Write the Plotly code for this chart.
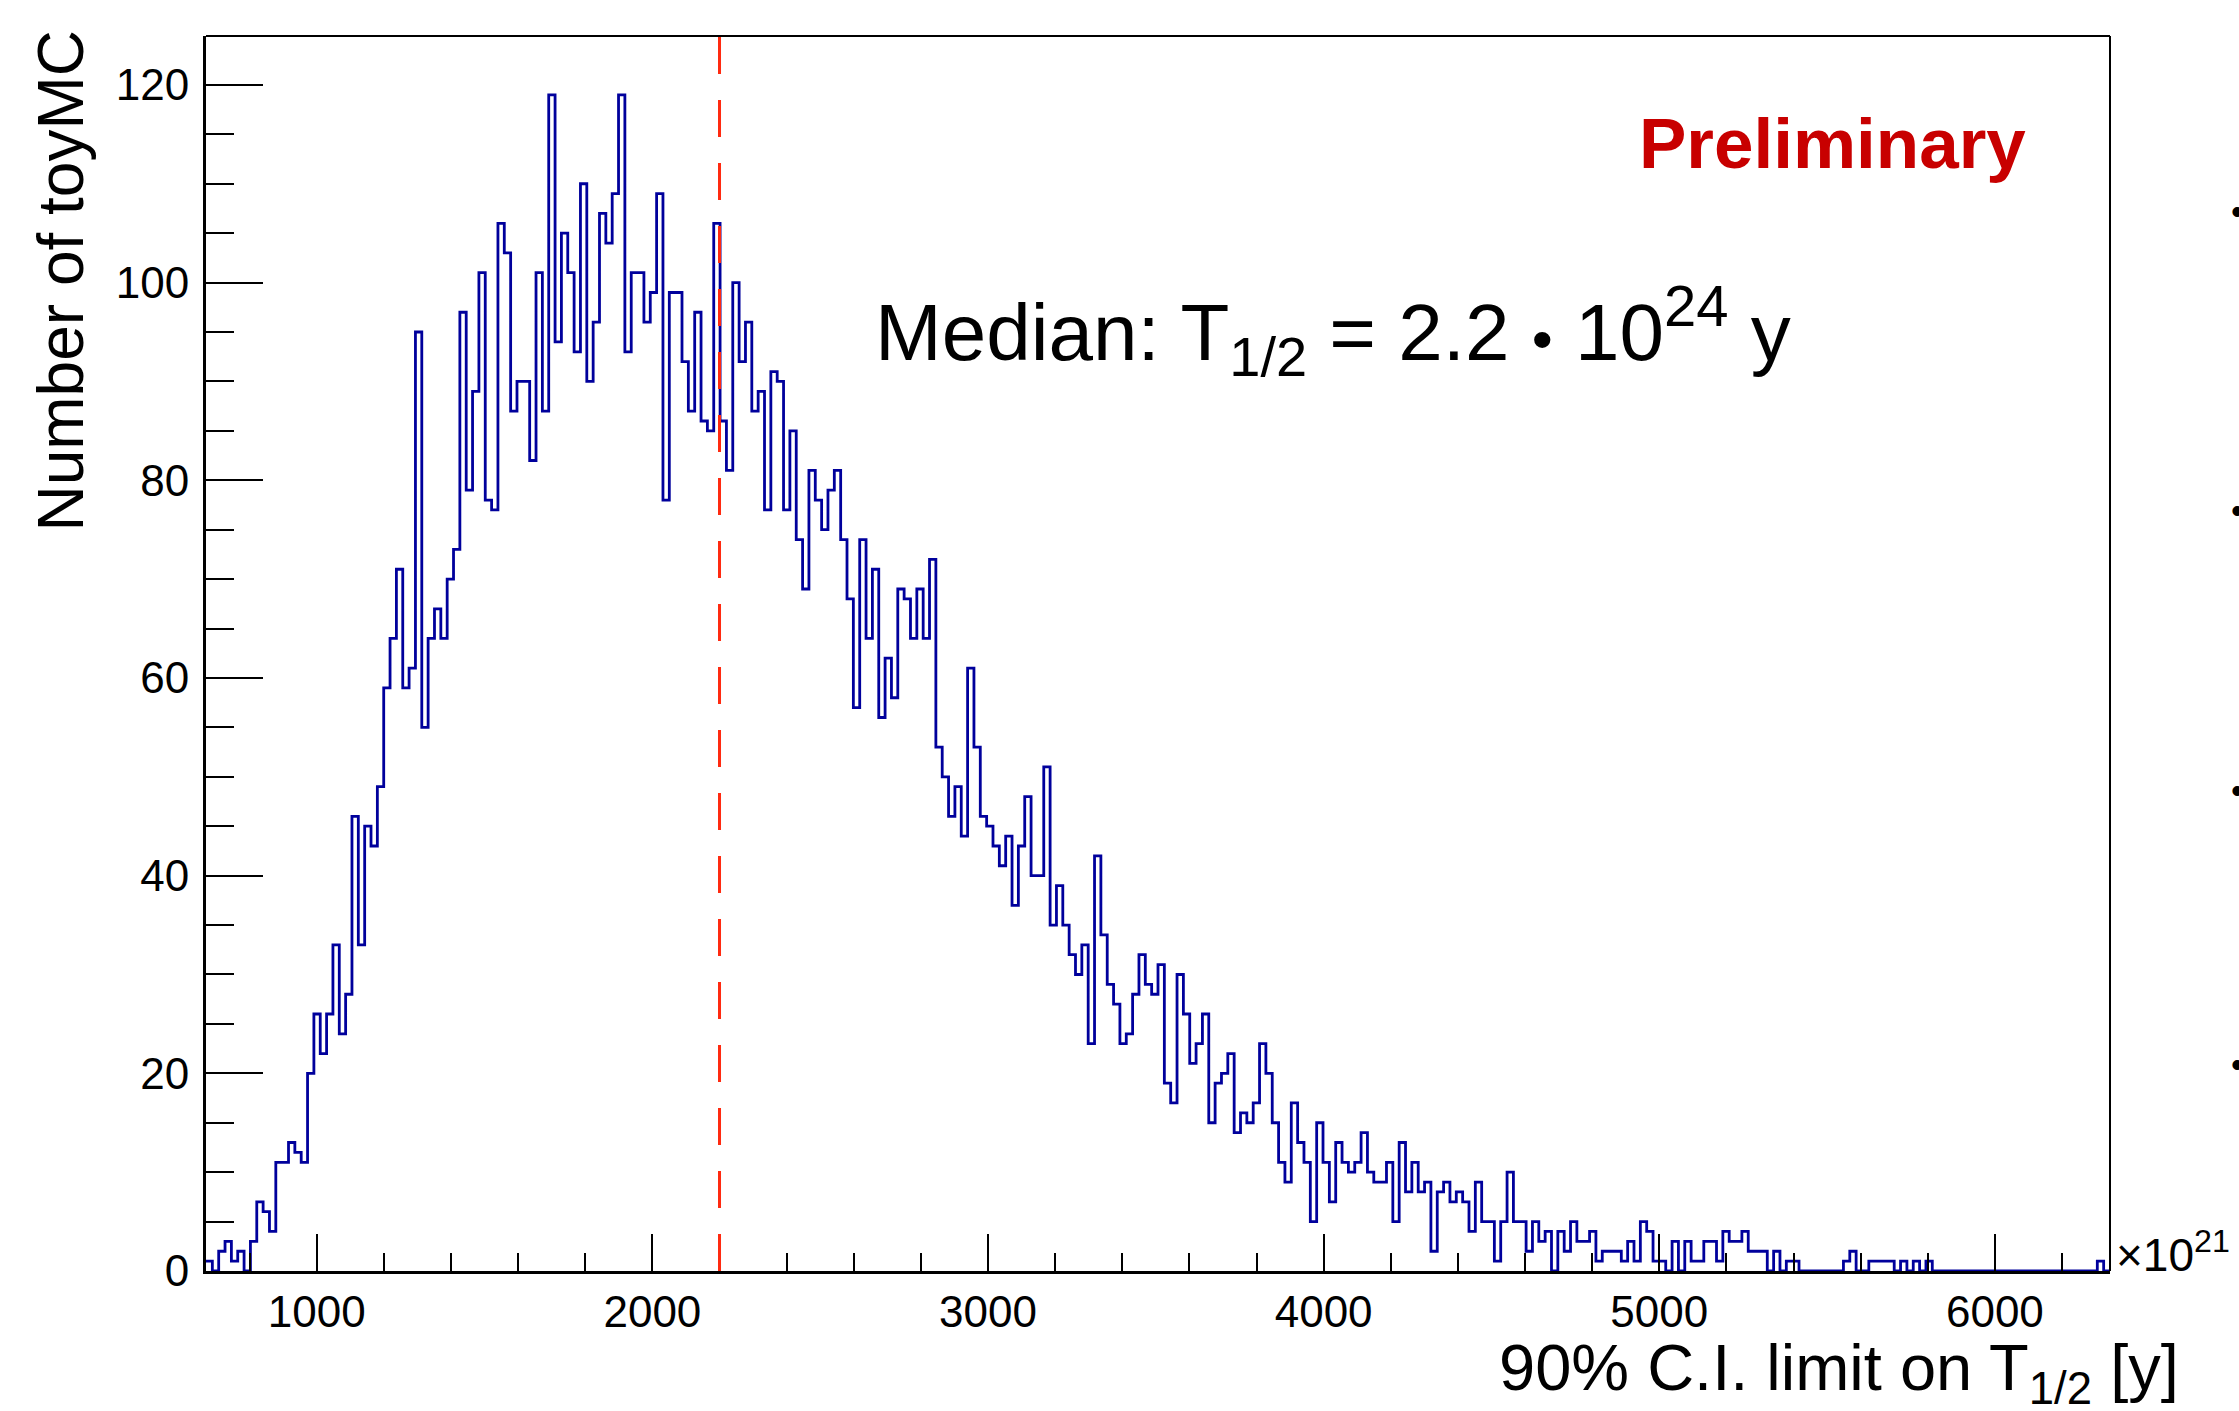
import numpy as np
import plotly.graph_objects as go

# ---------------- data ----------------
X_MIN = 670.0      # lower edge of histogram axis (x10^21 y)
X_MAX = 6343.0     # upper edge of histogram axis
BIN_COUNTS = [
    1, 0, 2, 3, 1, 2, 0, 3, 7, 6,
    4, 11, 11, 13, 12, 11, 20, 26, 22, 26,
    33, 24, 28, 46, 33, 45, 43, 49, 59, 64,
    71, 59, 61, 95, 55, 64, 67, 64, 70, 73,
    97, 79, 89, 101, 78, 77, 106, 103, 87, 90,
    90, 82, 101, 87, 119, 94, 105, 101, 93, 110,
    90, 96, 107, 104, 109, 119, 93, 101, 101, 96,
    99, 109, 78, 99, 99, 92, 87, 97, 86, 85,
    106, 86, 81, 100, 92, 96, 87, 89, 77, 91,
    90, 77, 85, 74, 69, 81, 78, 75, 79, 81,
    74, 68, 57, 74, 64, 71, 56, 62, 58, 69,
    68, 64, 69, 64, 72, 53, 50, 46, 49, 44,
    61, 53, 46, 45, 43, 41, 44, 37, 43, 48,
    40, 40, 51, 35, 39, 35, 32, 30, 33, 23,
    42, 34, 29, 27, 23, 24, 28, 32, 29, 28,
    31, 19, 17, 30, 26, 21, 23, 26, 15, 19,
    20, 22, 14, 16, 15, 17, 23, 20, 15, 11,
    9, 17, 13, 11, 5, 15, 11, 7, 13, 11,
    10, 11, 14, 10, 9, 9, 11, 5, 13, 8,
    11, 8, 9, 2, 8, 9, 7, 8, 7, 4,
    9, 5, 5, 1, 5, 10, 5, 5, 2, 5,
    3, 4, 0, 4, 2, 5, 3, 3, 4, 1,
    2, 2, 2, 1, 3, 1, 5, 4, 1, 1,
    0, 3, 0, 3, 1, 1, 3, 3, 1, 4,
    3, 3, 4, 2, 2, 2, 0, 2, 0, 1,
    1, 0, 0, 0, 0, 0, 0, 0, 1, 2,
    0, 0, 1, 1, 1, 1, 0, 1, 0, 1,
    0, 1, 0, 0, 0, 0, 0, 0, 0, 0,
    0, 0, 0, 0, 0, 0, 0, 0, 0, 0,
    0, 0, 0, 0, 0, 0, 0, 0, 1, 0,
]
MEDIAN_VALUE = 2200.0
Y_MAX = 124.95

X_TITLE = "90% C.I. limit on T<sub>1/2</sub> [y]"
Y_TITLE = "Number of toyMC"
MEDIAN_TEXT = ("Median: T<sub>1/2</sub> = 2.2 "
               "<span style='font-size:60px'>\u2022</span> 10"
               "<sup><span style='font-size:58px'>24</span></sup> y")
PRELIM_TEXT = "<b>Preliminary</b>"
EXPONENT_TEXT = "\u00d710<sup>21</sup>"

# ---------------- figure ----------------
FONT = "Liberation Sans, Arial, Helvetica, sans-serif"
W, H = 2239, 1411
ML, MR, MT, MB = 206, 129, 36, 140
PW, PH = W - ML - MR, H - MT - MB


def px_x(px):
    return (px - ML) / PW


def px_y(py):
    return (H - MB - py) / PH


edges = np.linspace(X_MIN, X_MAX, len(BIN_COUNTS) + 1)
step_y = list(BIN_COUNTS) + [BIN_COUNTS[-1]]

fig = go.Figure()
fig.add_trace(go.Scatter(
    x=edges, y=step_y, mode="lines",
    line=dict(shape="hv", color="#00009c", width=2.8),
    hoverinfo="skip", showlegend=False,
))

fig.update_layout(
    width=W, height=H,
    margin=dict(l=ML, r=MR, t=MT, b=MB, pad=0),
    paper_bgcolor="white", plot_bgcolor="white",
    font=dict(family=FONT, color="black", size=44),
    showlegend=False,
    hovermode=False,
)

fig.update_xaxes(
    range=[X_MIN, X_MAX], showgrid=False, zeroline=False,
    showline=True, linecolor="black", linewidth=3, mirror=False,
    ticks="inside", ticklen=37, tickwidth=2, tickcolor="black",
    tick0=0, dtick=1000, tickformat="d",
    tickfont=dict(size=44, family=FONT, color="black"),
    ticklabelstandoff=0,
    minor=dict(dtick=200, tick0=0, ticks="inside", ticklen=18,
               tickwidth=2, tickcolor="black", showgrid=False),
)
fig.update_yaxes(
    range=[0, Y_MAX], showgrid=False, zeroline=False,
    showline=True, linecolor="black", linewidth=3, mirror=False,
    ticks="inside", ticklen=57, tickwidth=2, tickcolor="black",
    tick0=0, dtick=20, tickformat="d",
    tickfont=dict(size=44, family=FONT, color="black"),
    ticklabelstandoff=5,
    minor=dict(dtick=5, tick0=0, ticks="inside", ticklen=28,
               tickwidth=2, tickcolor="black", showgrid=False),
)

# frame top / right
fig.add_shape(type="line", xref="paper", yref="paper", x0=0, x1=1, y0=1, y1=1,
              line=dict(color="black", width=2))
fig.add_shape(type="line", xref="paper", yref="paper", x0=1, x1=1, y0=0, y1=1,
              line=dict(color="black", width=2))

# median line
fig.add_shape(type="line", xref="x", yref="paper",
              x0=MEDIAN_VALUE, x1=MEDIAN_VALUE, y0=0, y1=1,
              line=dict(color="#ff2a10", width=3, dash="37px,26px"))

# texts
fig.add_annotation(text=Y_TITLE, xref="paper", yref="paper",
                   x=px_x(60), y=px_y(29), xanchor="center", yanchor="top",
                   textangle=-90, showarrow=False,
                   font=dict(size=64, family=FONT, color="black"))
fig.add_annotation(text=X_TITLE, xref="paper", yref="paper",
                   x=px_x(2181), y=px_y(1372), xanchor="right", yanchor="middle",
                   showarrow=False,
                   font=dict(size=65, family=FONT, color="black"))
fig.add_annotation(text=EXPONENT_TEXT, xref="paper", yref="paper",
                   x=px_x(2114), y=px_y(1252), xanchor="left", yanchor="middle",
                   showarrow=False,
                   font=dict(size=46, family=FONT, color="black"))
fig.add_annotation(text=PRELIM_TEXT, xref="paper", yref="paper",
                   x=px_x(1637), y=px_y(143), xanchor="left", yanchor="middle",
                   showarrow=False,
                   font=dict(size=71, family=FONT, color="#c80000"))
fig.add_annotation(text=MEDIAN_TEXT, xref="paper", yref="paper",
                   x=px_x(873), y=px_y(330), xanchor="left", yanchor="middle",
                   showarrow=False,
                   font=dict(size=80, family=FONT, color="black"))

# partial bullets at the right page edge
for by in [211, 510, 790, 1064]:
    fig.add_annotation(text="\u2022", xref="paper", yref="paper",
                       x=px_x(2237), y=px_y(by), xanchor="center", yanchor="middle",
                       showarrow=False,
                       font=dict(size=36, family=FONT, color="black"))

fig.write_html("out.html", config={"displayModeBar": False, "staticPlot": True},
               post_script="document.body.style.margin='0px';")
